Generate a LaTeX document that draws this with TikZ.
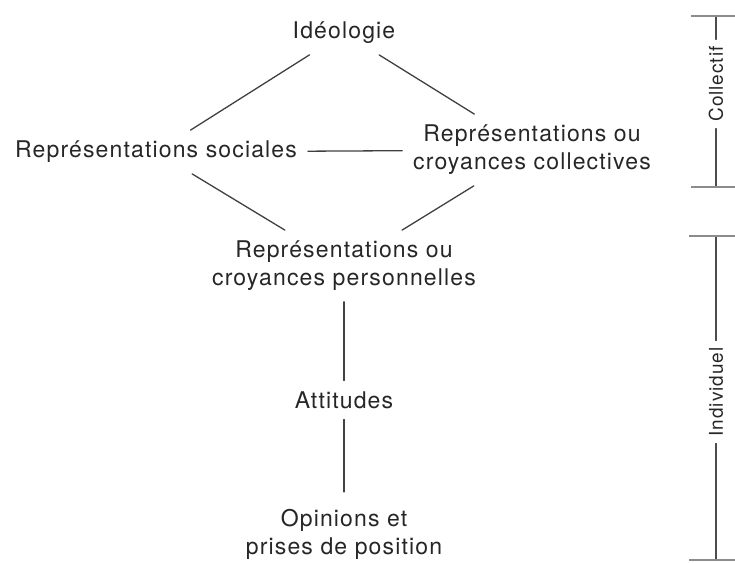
\documentclass[tikz,border=0pt]{standalone}
\usepackage{fontspec}
\setmainfont{TeX Gyre Heros}[LetterSpace=5]
\usetikzlibrary{positioning}

\begin{document}
\begin{tikzpicture}[
    x=1pt, y=-1pt,
    line cap=round,
    term/.style={inner sep=1pt, outer sep=10pt, align=center, text=black!85,
      font=\fontsize{23}{28}\selectfont},
    link/.style={draw=black!75, line width=1.3pt},
    sidebar/.style={draw=black!70, line width=1.1pt},
    sidecap/.style={draw=black!45, line width=2.6pt, line cap=butt},
    sidetext/.style={term, outer sep=6pt, rotate=90, font=\fontsize{19}{23}\selectfont}
  ]
  \useasboundingbox (0,0) rectangle (735,562);

  % The diamond of collective notions, narrowing to the personal ones.
  \node[term] (ideologie)    at (344,33)  {Idéologie};
  \node[term] (sociales)     at (156,152) {Représentations sociales};
  \node[term] (collectives)  at (532,150) {Représentations ou\\croyances collectives};
  \node[term] (personnelles) at (344,266) {Représentations ou\\croyances personnelles};
  \node[term] (attitudes)    at (344,400) {Attitudes};
  \node[term] (opinions)     at (344,534) {Opinions et\\prises de position};

  \draw[link] (ideologie) -- (sociales);
  \draw[link] (ideologie) -- (collectives);
  \draw[link] (sociales) -- (collectives);
  \draw[link] (sociales) -- (personnelles);
  \draw[link] (collectives) -- (personnelles);
  \draw[link] (personnelles) -- (attitudes);
  \draw[link, shorten >=6pt] (attitudes) -- (opinions);

  % Side scale: collective level above, individual level below.
  \coordinate (coll-top) at (716,16);
  \coordinate (coll-bot) at (716,187);
  \coordinate (indi-top) at (716,236);
  \coordinate (indi-bot) at (716,560);
  \node[sidetext] (collectif)  at (716,84)  {Collectif};
  \node[sidetext] (individuel) at (716,392) {Individuel};

  \draw[sidebar] (coll-top) -- (collectif) -- (coll-bot);
  \draw[sidebar] (indi-top) -- (individuel) -- (indi-bot);
  \draw[sidecap] (691,16) -- (735,16);
  \draw[sidecap] (691,187) -- (735,187);
  \draw[sidecap] (689,236) -- (735,236);
  \draw[sidecap] (689,560) -- (735,560);
\end{tikzpicture}
\end{document}
